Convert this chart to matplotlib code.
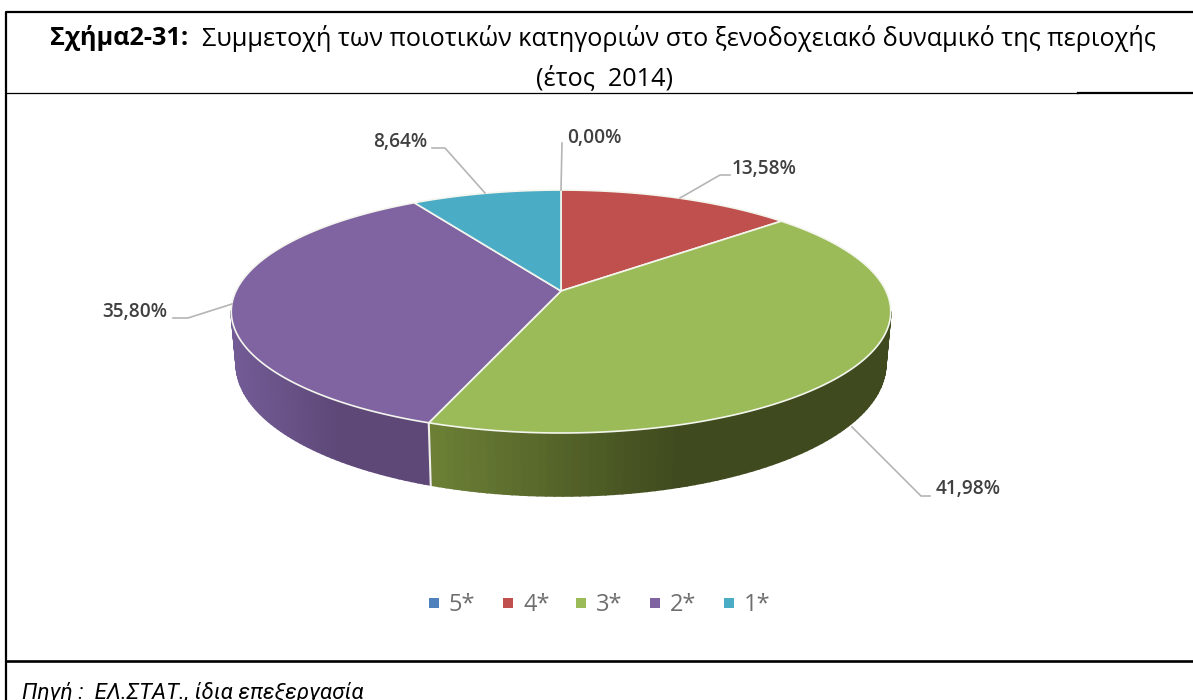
import matplotlib
matplotlib.use('Agg')
import matplotlib.pyplot as plt
import numpy as np

# values
categories = ['5*', '4*', '3*', '2*', '1*']
shares = [0.00, 13.58, 41.98, 35.80, 8.64]
share_labels = ['0,00%', '13,58%', '41,98%', '35,80%', '8,64%']
top_colors = ['#4f81bd', '#c0504d', '#9bbb59', '#8064a2', '#4bacc6']
side_left = ['#4f81bd', '#7a3230', '#6d8136', '#735c96', '#4bacc6']
side_right = ['#4f81bd', '#7a3230', '#3f4a1e', '#5e4878', '#4bacc6']

title_bold = 'Σχήμα2-31:'
title_rest = 'Συμμετοχή των ποιοτικών κατηγοριών στο ξενοδοχειακό δυναμικό της περιοχής'
title_line2 = '(έτος  2014)'
source_text = 'Πηγή :  ΕΛ.ΣΤΑΤ., ίδια επεξεργασία'

# label text centre and leader line (pixels)
label_xy = [(594, 138), (764, 169), (968, 489), (135, 312), (400, 142)]
leaders = [
    [(561, 190), (562, 143)],
    [(680, 198), (720, 175), (730, 175)],
    [(852, 427), (921, 496), (930, 496)],
    [(232, 304), (188, 318), (173, 318)],
    [(485, 193), (445, 148), (432, 148)],
]

W, H = 1193, 700
fig = plt.figure(figsize=(W / 100, H / 100), dpi=100)
ax = fig.add_axes([0, 0, 1, 1])
ax.set_xlim(0, W)
ax.set_ylim(H, 0)
ax.axis('off')

FONT = 'Open Sans'

# frame of the table around the chart
frame = '#000000'
ax.plot([1193, 6, 6], [12, 12, 700], color=frame, lw=1.6, solid_capstyle='butt')
ax.plot([6, 1078], [92.5, 92.5], color=frame, lw=0.9)
ax.plot([1078, 1193], [93, 93], color=frame, lw=1.6)
ax.plot([6, 1193], [660.5, 660.5], color=frame, lw=1.9)


# perspective view of the pie disc
def disc(theta):
    d = 1 + 0.169 * np.cos(theta)
    return 561 + 325 * np.sin(theta) / d, 291 - 118 * np.cos(theta) / d


def rim(theta):
    x, y = disc(theta)
    return 561 + (x - 561) * 0.985, y + 50 - 13 * np.cos(theta)


edges = np.radians(np.concatenate([[0], np.cumsum(shares)]) * 3.6)

# side wall first, only the part facing the viewer
for i in range(len(shares)):
    a0, a1 = edges[i], edges[i + 1]
    if a1 - a0 < 1e-6:
        continue
    th = np.linspace(a0, a1, 120)
    x, y = disc(th)
    xb, yb = rim(th)
    c0 = np.array(matplotlib.colors.to_rgb(side_left[i]))
    c1 = np.array(matplotlib.colors.to_rgb(side_right[i]))
    xmin, xmax = x.min(), x.max()
    for j in range(len(th) - 1):
        if np.cos(th[j]) > -0.17 and np.cos(th[j + 1]) > -0.17:
            continue
        t = min(1, (x[j] - xmin) / (0.55 * (xmax - xmin)))
        ax.fill([x[j], x[j + 1], xb[j + 1], xb[j]], [y[j], y[j + 1], yb[j + 1], yb[j]],
                color=c0 + (c1 - c0) * t, lw=1.2, zorder=2)

# white seam on the wall between 3* and 2*
xs, ys = disc(edges[3])
xe, ye = rim(edges[3])
ax.plot([xs, xe], [ys, ye], color='#f0f0e8', lw=1.5, zorder=3)

# top face
for i in range(len(shares)):
    a0, a1 = edges[i], edges[i + 1]
    if a1 - a0 < 1e-6:
        continue
    th = np.linspace(a0, a1, 200)
    x, y = disc(th)
    ax.fill(np.r_[561, x], np.r_[291, y], facecolor=top_colors[i],
            edgecolor='#f4f6ee', lw=1.2, zorder=4, joinstyle='round')

# leader lines and data labels
for i in range(len(shares)):
    pts = np.array(leaders[i])
    ax.plot(pts[:, 0], pts[:, 1], color='#b5b5b5', lw=1.2, zorder=5)
    ax.text(label_xy[i][0], label_xy[i][1], share_labels[i], fontsize=13.7, color='#404040',
            ha='center', va='center', family=FONT, weight='semibold', zorder=6)

# legend, spaced by hand like the original
legend_x = [434, 508, 581, 655, 729]
for i, cat in enumerate(categories):
    ax.scatter(legend_x[i], 603, marker='s', s=50, color=top_colors[i], lw=0, zorder=6)
    ax.text(legend_x[i] + 15, 611, cat, fontsize=17, color='#6e6e6e', family=FONT,
            ha='left', va='baseline')

# title, bold part followed by regular part
fig.canvas.draw()
renderer = fig.canvas.get_renderer()
t1 = ax.text(50, 38, title_bold, fontsize=18.2, weight='bold', family=FONT, color='black',
             ha='left', va='center')
bb = t1.get_window_extent(renderer)
ax.text(bb.x1 + 14, 38, title_rest, fontsize=18.2, family=FONT, color='black',
        ha='left', va='center')
ax.text(604, 78, title_line2, fontsize=18.2, family=FONT, color='black', ha='center', va='center')
ax.text(22, 699, source_text, fontsize=16, style='italic', family='Roboto', color='black',
        ha='left', va='baseline')

fig.savefig('out.png', dpi=100)
